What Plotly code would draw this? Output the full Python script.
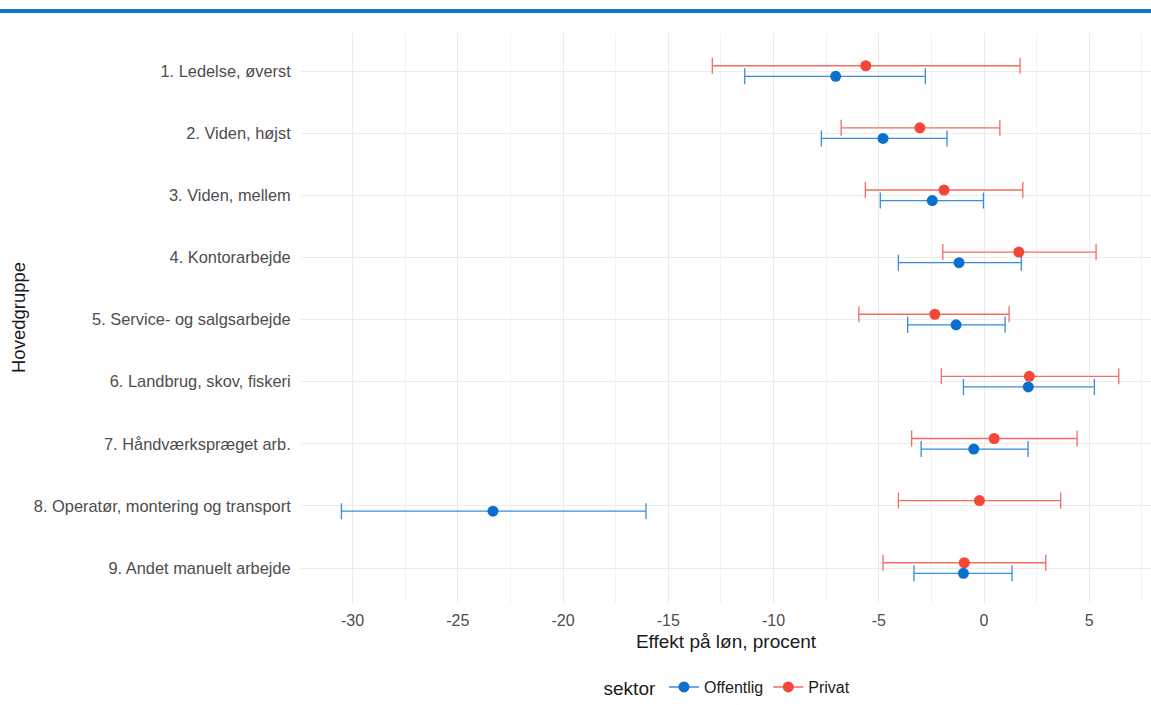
import plotly.graph_objects as go

# Occupational groups (top to bottom)
groups = [
    "1. Ledelse, øverst",
    "2. Viden, højst",
    "3. Viden, mellem",
    "4. Kontorarbejde",
    "5. Service- og salgsarbejde",
    "6. Landbrug, skov, fiskeri",
    "7. Håndværkspræget arb.",
    "8. Operatør, montering og transport",
    "9. Andet manuelt arbejde",
]

# Estimated wage effect (percent) with lower/upper confidence limits
off_est = [-7.05, -4.80, -2.46, -1.19, -1.33, 2.10, -0.49, -23.33, -0.98]
off_lo = [-11.37, -7.73, -4.93, -4.07, -3.63, -0.98, -2.99, -30.53, -3.33]
off_hi = [-2.79, -1.76, -0.03, 1.77, 1.00, 5.24, 2.09, -16.06, 1.33]

priv_est = [-5.62, -3.05, -1.90, 1.65, -2.34, 2.15, 0.48, -0.22, -0.94]
priv_lo = [-12.91, -6.79, -5.64, -1.96, -5.95, -2.03, -3.44, -4.07, -4.80]
priv_hi = [1.71, 0.75, 1.84, 5.32, 1.19, 6.40, 4.42, 3.64, 2.93]

x_ticks = [-30, -25, -20, -15, -10, -5, 0, 5]

BLUE = "#0a6fcf"
RED = "#f4473a"
BLUE_BAR = "rgba(10,111,207,0.8)"
RED_BAR = "rgba(244,71,58,0.8)"
DODGE = 0.085
FONT = "Liberation Sans, Arial, sans-serif"

pos = list(range(1, len(groups) + 1))


def series(name, est, lo, hi, color, bar_color, shift):
    return go.Scatter(
        x=est,
        y=[p + shift for p in pos],
        mode="markers",
        name=name,
        showlegend=False,
        marker=dict(color=color, size=11),
        error_x=dict(
            type="data",
            symmetric=False,
            array=[h - e for h, e in zip(hi, est)],
            arrayminus=[e - l for e, l in zip(est, lo)],
            color=bar_color,
            thickness=1.3,
            width=8,
        ),
        cliponaxis=False,
    )


fig = go.Figure()
fig.add_trace(series("Offentlig", off_est, off_lo, off_hi, BLUE, BLUE_BAR, DODGE))
fig.add_trace(series("Privat", priv_est, priv_lo, priv_hi, RED, RED_BAR, -DODGE))

# legend keys (line through point)
for name, color, bar in [("Offentlig", BLUE, BLUE_BAR), ("Privat", RED, RED_BAR)]:
    fig.add_trace(go.Scatter(
        x=[None], y=[None], mode="lines+markers", name=name,
        marker=dict(color=color, size=11),
        line=dict(color=bar, width=1.5),
    ))

fig.update_layout(
    width=1151,
    height=705,
    margin=dict(l=301, r=0, t=33, b=102, autoexpand=False),
    paper_bgcolor="white",
    plot_bgcolor="white",
    font=dict(family=FONT, color="#4d4d4d", size=16),
    showlegend=True,
    legend=dict(
        orientation="h",
        x=0.503,
        xanchor="center",
        y=(603 - 705) / 570,
        yanchor="bottom",
        title=dict(text="sektor", font=dict(size=19, color="#1a1a1a")),
        font=dict(size=16, color="#1a1a1a"),
        itemwidth=30,
    ),
    xaxis=dict(
        range=[-32.45, 7.93],
        tickvals=x_ticks,
        ticktext=[str(v) for v in x_ticks],
        showgrid=True,
        gridcolor="#ebebeb",
        gridwidth=1.1,
        zeroline=False,
        showline=False,
        ticks="outside",
        ticklen=3,
        tickcolor="rgba(0,0,0,0)",
        tickfont=dict(size=16, color="#4d4d4d"),
        minor=dict(dtick=2.5, tick0=0, showgrid=True, gridcolor="#f2f2f2", gridwidth=0.7),
        title=dict(text="Effekt på løn, procent", font=dict(size=19, color="#1a1a1a"), standoff=6),
    ),
    yaxis=dict(
        range=[9.563, 0.388],
        tickvals=pos,
        ticktext=groups,
        showgrid=True,
        gridcolor="#ebebeb",
        gridwidth=1.1,
        zeroline=False,
        showline=False,
        ticks="outside",
        ticklen=6,
        tickcolor="rgba(0,0,0,0)",
        tickfont=dict(size=16.4, color="#4d4d4d"),
    ),
    shapes=[
        dict(
            type="rect", xref="paper", yref="paper",
            x0=-301 / 850, x1=1.0, y0=(603 - 13) / 570, y1=(603 - 9) / 570,
            fillcolor="#0a76cc", line=dict(width=0), layer="above",
        )
    ],
    annotations=[
        dict(
            text="Hovedgruppe", textangle=-90, xref="paper", yref="paper",
            x=-283 / 850, y=0.5, xanchor="center", yanchor="middle",
            showarrow=False, font=dict(size=18.5, color="#1a1a1a", family=FONT),
        )
    ],
)

fig.write_html("out.html")
